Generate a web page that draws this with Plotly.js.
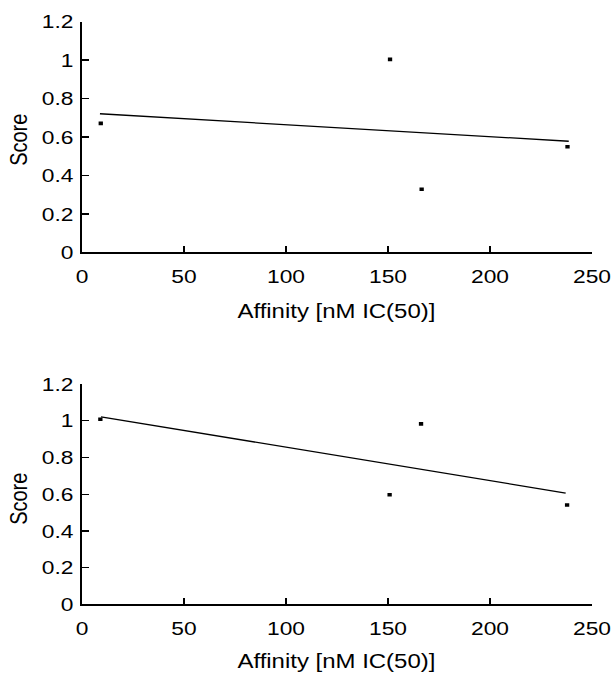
<!DOCTYPE html>
<html>
<head>
<meta charset="utf-8">
<script src="https://cdn.plot.ly/plotly-3.0.1.min.js"></script>
<style>
  html, body { margin: 0; padding: 0; background: #fff; overflow: hidden; }
  #wrap { width: 615px; height: 675px; overflow: hidden; }
  #chart { width: 513px; height: 675px; transform: scaleX(1.1988); transform-origin: 0 0; }
</style>
</head>
<body>
<div id="wrap"><div id="chart"></div></div>
<script>
// ---- data ----
const affinityTop = [9.2, 151, 166.5, 238];
const scoreTop = [0.671, 1.004, 0.328, 0.549];
const trendTopX = [8.8, 238.6];
const trendTopY = [0.721, 0.578];

const affinityBottom = [9, 150.8, 166.2, 237.8];
const scoreBottom = [1.008, 0.597, 0.983, 0.541];
const trendBottomX = [9.3, 237.1];
const trendBottomY = [1.021, 0.606];

const xTickVals = [0, 50, 100, 150, 200, 250];
const yTickVals = [0, 0.2, 0.4, 0.6, 0.8, 1, 1.2];
const yTickText = ['0', '0.2', '0.4', '0.6', '0.8', '1', '1.2'];
const xTitle = 'Affinity [nM IC(50)]';
const yTitle = 'Score';

const FONT = 'Liberation Sans, Arial, Helvetica, sans-serif';
const tickFont = { family: FONT, size: 19, color: '#000' };

function pts(x, y, xa, ya) {
  return { x: x, y: y, xaxis: xa, yaxis: ya, type: 'scatter', mode: 'markers',
    marker: { symbol: 'square', size: 3.6, color: '#000' }, hoverinfo: 'skip' };
}
function trend(x, y, xa, ya) {
  return { x: x, y: y, xaxis: xa, yaxis: ya, type: 'scatter', mode: 'lines',
    line: { color: '#000', width: 1.3 }, hoverinfo: 'skip' };
}

const xDomain = [82 / 615, 592 / 615];
function xAxis(anchor) {
  return { domain: xDomain, anchor: anchor, range: [0, 250], tickvals: xTickVals,
    showgrid: false, zeroline: false, showline: true, linecolor: '#000', linewidth: 1.3,
    ticks: 'inside', ticklen: 6, tickwidth: 1.3, tickcolor: '#000',
    tickfont: tickFont, ticklabelstandoff: 7, fixedrange: true };
}
function yAxis(anchor, dom) {
  return { domain: dom, anchor: anchor, range: [0, 1.2], tickvals: yTickVals, ticktext: yTickText,
    showgrid: false, zeroline: false, showline: true, linecolor: '#000', linewidth: 1.3,
    ticks: 'inside', ticklen: 6, tickwidth: 1.3, tickcolor: '#000',
    tickfont: tickFont, ticklabelstandoff: 2, fixedrange: true };
}

const titleFont = { family: FONT, size: 20, color: '#000' };
const layout = {
  width: 513, height: 675,
  margin: { l: 0, r: 0, t: 0, b: 0 },
  paper_bgcolor: '#fff', plot_bgcolor: '#fff',
  showlegend: false,
  xaxis: xAxis('y'),
  yaxis: yAxis('x', [1 - 252.3 / 675, 1 - 21.7 / 675]),
  xaxis2: xAxis('y2'),
  yaxis2: yAxis('x2', [1 - 604.3 / 675, 1 - 384 / 675]),
  annotations: [
    { text: xTitle, xref: 'paper', yref: 'paper', x: 336 / 615, y: 1 - 311 / 675,
      xanchor: 'center', yanchor: 'middle', showarrow: false, font: titleFont },
    { text: xTitle, xref: 'paper', yref: 'paper', x: 336 / 615, y: 1 - 661 / 675,
      xanchor: 'center', yanchor: 'middle', showarrow: false, font: titleFont },
    { text: yTitle, xref: 'paper', yref: 'paper', x: 19 / 615, y: 1 - 140 / 675,
      xanchor: 'center', yanchor: 'middle', showarrow: false, textangle: -90, font: titleFont },
    { text: yTitle, xref: 'paper', yref: 'paper', x: 19 / 615, y: 1 - 499 / 675,
      xanchor: 'center', yanchor: 'middle', showarrow: false, textangle: -90, font: titleFont }
  ]
};

const data = [
  trend(trendTopX, trendTopY, 'x', 'y'),
  pts(affinityTop, scoreTop, 'x', 'y'),
  trend(trendBottomX, trendBottomY, 'x2', 'y2'),
  pts(affinityBottom, scoreBottom, 'x2', 'y2')
];

Plotly.newPlot('chart', data, layout, { displayModeBar: false, staticPlot: true });
</script>
</body>
</html>
